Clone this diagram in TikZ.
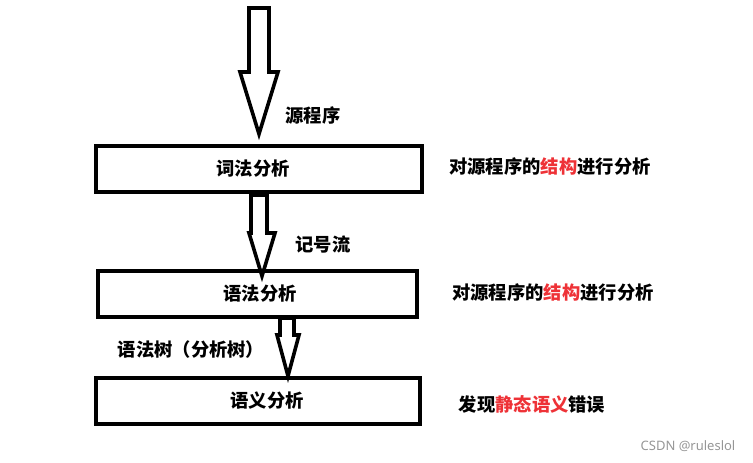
\documentclass[tikz,border=0pt]{standalone}
\usepackage{fontspec}
\newfontfamily\cjk{Noto Sans CJK SC}
\newfontfamily\wm{Noto Sans}
\usetikzlibrary{calc}
\definecolor{hl}{RGB}{238,50,55}
\definecolor{wmgray}{RGB}{150,150,150}
\tikzset{
  x=1pt,y=-1pt,
  stagebox/.style={draw=black,line width=3.6pt,minimum width=#1,minimum height=46pt,inner sep=0pt,font=\cjk\bfseries\fontsize{18.3}{20}\selectfont},
  lbl/.style={font=\cjk\bfseries\fontsize{18.3}{20}\selectfont,inner sep=0pt},
  blockarrow/.style={draw=black,line width=3.6pt,line join=miter,fill=white}
}
\begin{document}
\begin{tikzpicture}
\useasboundingbox (0,0) rectangle (753,463);
% boxes
\node[stagebox=326pt] (lex) at (259,169) {词法分析\hspace*{12pt}};
\node[stagebox=319pt] (syn) at (257.5,294) {\hspace*{5pt}语法分析};
\node[stagebox=324pt] (sem) at (258,401) {\hspace*{18pt}语义分析};
% arrow 1 (input)
\draw[blockarrow] (249,8) -- (269,8) -- (269,72) -- (278,72) -- (259,134) -- (240,72) -- (249,72) -- cycle;
% arrow 2: lex -> syn
\draw[blockarrow] (251,195) -- (267,195) -- (267,233) -- (275,233) -- (262,276) -- (249,233) -- (251,233) -- cycle;
% arrow 3: syn -> sem
\draw[blockarrow] (280,318) -- (294,318) -- (294,335) -- (299,335) -- (288,376) -- (277,335) -- (280,335) -- cycle;
% labels
\node[lbl] (l1) at (313,115) {源程序};
\node[lbl] (l2) at (323,244) {记号流};
\node[lbl] (l3) at (191,350) {语法树（分析树）};
\node[lbl] (r1) at (550,166) {对源程序的\textcolor{hl}{结构}进行分析};
\node[lbl] (r2) at (553,292) {对源程序的\textcolor{hl}{结构}进行分析};
\node[lbl] (r3) at (532,404) {发现\textcolor{hl}{静态语义}错误};
\node[font=\wm\fontsize{13}{14}\selectfont,text=wmgray,inner sep=0pt] (wm) at (688,446) {CSDN @ruleslol};
\end{tikzpicture}
\end{document}
